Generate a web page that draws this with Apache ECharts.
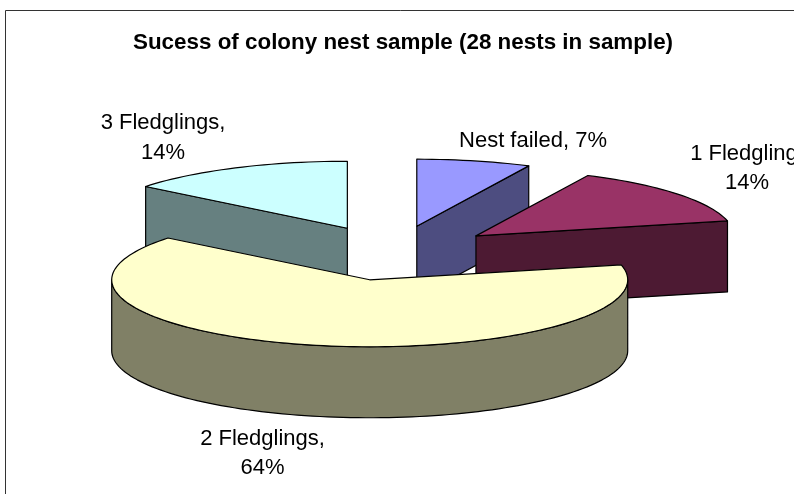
<!DOCTYPE html>
<html>
<head>
<meta charset="utf-8">
<style>
    html, body { margin: 0; padding: 0; background: #fff; }
    #chart { width: 794px; height: 494px; overflow: hidden; }
</style>
<script src="https://cdn.jsdelivr.net/npm/echarts@6/dist/echarts.min.js"></script>
</head>
<body>
<div id="chart"></div>
<script>
// nest counts (28 nests in sample)
var names = ['Nest failed', '1 Fledgling', '2 Fledglings', '3 Fledglings']
var counts = [2, 4, 18, 4]
var titleText = 'Sucess of colony nest sample (28 nests in sample)'

// styles, one per slice
var topColors = ['#9999ff', '#993366', '#ffffcc', '#ccffff']
var sideColors = ['#4d4d80', '#4d1a33', '#808066', '#668080']
var drawOrder = [1, 2, 3, 1] // back slices first
var labelXY = [[533, 141], [747, 168.5], [262.5, 453.5], [163, 138]]
var labelBreak = [' ', '\n', '\n', '\n']

// tilted pie geometry
var cx = 393.25, cy = 253, rx = 258, ry = 67, depth = 71, explode = 0.41
var fontName = '"Liberation Sans", Arial, sans-serif'

var total = counts.reduce(function (a, b) { return a + b }, 0)
var starts = []
counts.reduce(function (sum, v, i) {
    starts[i] = sum
    return sum + v
}, 0)

function arcPoints(ox, oy, a0, a1) {
    var pts = [], n = Math.max(2, Math.ceil(Math.abs(a1 - a0) / 0.03))
    for (var i = 0; i <= n; i++) {
        var a = a0 + (a1 - a0) * i / n
        pts.push([ox + rx * Math.sin(a), oy - ry * Math.cos(a)])
    }
    return pts
}

function poly(points, fill, z2) {
    return {
        type: 'polygon',
        z2: z2,
        shape: { points: points },
        style: { fill: fill, stroke: '#000', lineWidth: 1.2, lineJoin: 'round' },
    }
}

function radialFace(ox, oy, a, fill, z2) {
    var p = [ox + rx * Math.sin(a), oy - ry * Math.cos(a)]
    return poly([[ox, oy], p, [p[0], p[1] + depth], [ox, oy + depth]], fill, z2)
}

function renderSlice(params, api) {
    var i = params.dataIndex
    var a0 = api.value(1) / total * Math.PI * 2
    var a1 = a0 + api.value(0) / total * Math.PI * 2
    var mid = (a0 + a1) / 2
    var ox = cx + rx * explode * Math.sin(mid)
    var oy = cy - ry * explode * Math.cos(mid)
    var z = drawOrder[i] * 10
    var children = []
    // only the faces turned towards the viewer
    if (Math.sin(a1) > 0) children.push(radialFace(ox, oy, a1, sideColors[i], z))
    if (Math.sin(a0) < 0) children.push(radialFace(ox, oy, a0, sideColors[i], z))
    var w0 = Math.max(a0, Math.PI / 2), w1 = Math.min(a1, Math.PI * 1.5)
    if (w1 > w0) {
        var upper = arcPoints(ox, oy, w0, w1)
        var lower = arcPoints(ox, oy + depth, w1, w0)
        children.push(poly(upper.concat(lower), sideColors[i], z + 1))
    }
    children.push(poly([[ox, oy]].concat(arcPoints(ox, oy, a0, a1)), topColors[i], z + 2))
    children.push({
        type: 'text',
        z2: 100,
        style: {
            x: labelXY[i][0],
            y: labelXY[i][1],
            text: names[i] + ',' + labelBreak[i] + Math.round(api.value(0) / total * 100) + '%',
            font: '22px ' + fontName,
            fill: '#000',
            align: 'center',
            verticalAlign: 'middle',
            lineHeight: 29.5,
        },
    })
    return { type: 'group', children: children }
}

var myChart = echarts.init(document.getElementById('chart'), null, { renderer: 'canvas' })
myChart.setOption({
    animation: false,
    backgroundColor: '#fff',
    title: {
        text: titleText,
        left: 128,
        top: 27,
        textStyle: { fontFamily: fontName, fontSize: 22.4, fontWeight: 'bold', color: '#000' },
    },
    // chart frame runs off the right and bottom of the picture
    graphic: [
        {
            type: 'rect',
            z: -1,
            shape: { x: 5.5, y: 10.5, width: 900, height: 600 },
            style: { fill: '#fff', stroke: '#333', lineWidth: 1 },
        },
    ],
    series: [
        {
            type: 'custom',
            coordinateSystem: 'none',
            renderItem: renderSlice,
            encode: { value: [0, 1] },
            data: counts.map(function (v, i) {
                return { name: names[i], value: [v, starts[i]] }
            }),
        },
    ],
})
</script>
</body>
</html>
